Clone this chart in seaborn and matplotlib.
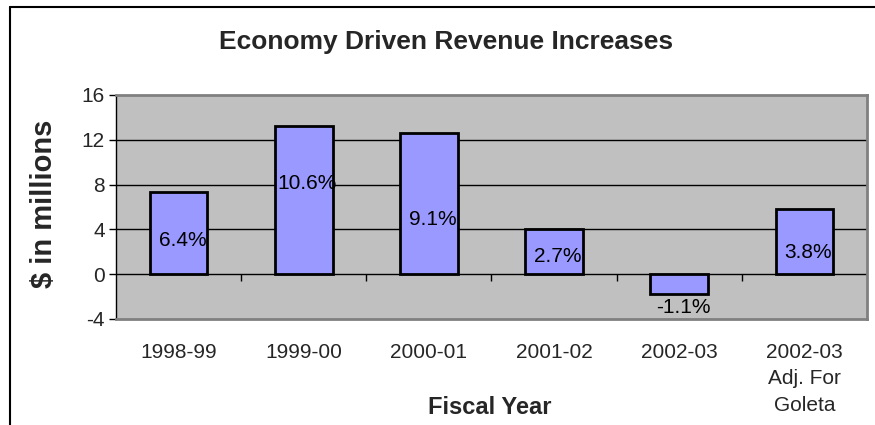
import matplotlib
matplotlib.use("Agg")
import matplotlib.pyplot as plt
from matplotlib.lines import Line2D
import seaborn as sns
import pandas as pd

# ---- data ----
categories = ["1998-99", "1999-00", "2000-01", "2001-02", "2002-03", "2002-03\nAdj. For\nGoleta"]
values = [7.3, 13.2, 12.6, 4.0, -1.8, 5.8]
pct_labels = ["6.4%", "10.6%", "9.1%", "2.7%", "-1.1%", "3.8%"]
label_y = [3.0, 8.1, 4.9, 1.55, -2.95, 1.95]
y_ticks = [-4, 0, 4, 8, 12, 16]

sns.set_style("white")
plt.rcParams["font.family"] = ["Liberation Sans", "DejaVu Sans"]

df = pd.DataFrame({"year": categories, "value": values})

fig = plt.figure(figsize=(8.75, 4.25), dpi=100)
ax = fig.add_axes([116 / 875, 1 - 319 / 425, 751 / 875, 224 / 425])
ax.set_facecolor("#C0C0C0")

# gridlines behind bars
for t in y_ticks[2:-1]:
    ax.axhline(t, color="black", lw=1, zorder=0.5)

sns.barplot(data=df, x="year", y="value", order=categories, width=0.46,
            color="#9999FF", edgecolor="black", linewidth=2, saturation=1,
            ax=ax, zorder=2)

ax.axhline(0, color="black", lw=1, zorder=1)
# category boundary tick marks on the zero line
n = len(categories)
ax.vlines([i + 0.5 for i in range(n - 1)], -0.6, 0, color="black", lw=1, zorder=1)

for i, (lab, yy) in enumerate(zip(pct_labels, label_y)):
    ax.text(i + 0.03, yy, lab, ha="center", va="center", fontsize=15, color="black", zorder=3)

ax.set_xlim(-0.5, n - 0.5)
ax.set_ylim(-4, 16)
ax.set_yticks(y_ticks)
ax.set_yticklabels([str(t) for t in y_ticks])
ax.tick_params(axis="y", direction="out", length=5, width=1, color="black", pad=3, labelsize=15, left=True)
ax.tick_params(axis="x", length=0, pad=17, labelsize=15)
for lbl in ax.get_xticklabels():
    lbl.set_linespacing(1.5)
ax.set_xlabel("")
ax.set_ylabel("")

for s in ["top", "right", "bottom"]:
    ax.spines[s].set_color("#808080")
    ax.spines[s].set_linewidth(2)
ax.spines["left"].set_color("black")
ax.spines["left"].set_linewidth(1)

fig.text(446 / 875, 1 - 42 / 425, "Economy Driven Revenue Increases", ha="center", va="center",
         fontsize=19, fontweight="bold")
fig.text(44 / 875, 1 - 204 / 425, "$ in millions", ha="center", va="center", rotation=90,
         fontsize=21, fontweight="bold")
fig.text(490 / 875, 1 - 408 / 425, "Fiscal Year", ha="center", va="center",
         fontsize=17, fontweight="bold")

# chart frame (left and top edges visible)
fy = 1 - 7 / 425
fx = 9.5 / 875
fig.add_artist(Line2D([fx, fx], [0, fy], transform=fig.transFigure, color="black", lw=1.5))
fig.add_artist(Line2D([fx, 1], [fy, fy], transform=fig.transFigure, color="black", lw=1.5))

fig.savefig("out.png", dpi=100)
